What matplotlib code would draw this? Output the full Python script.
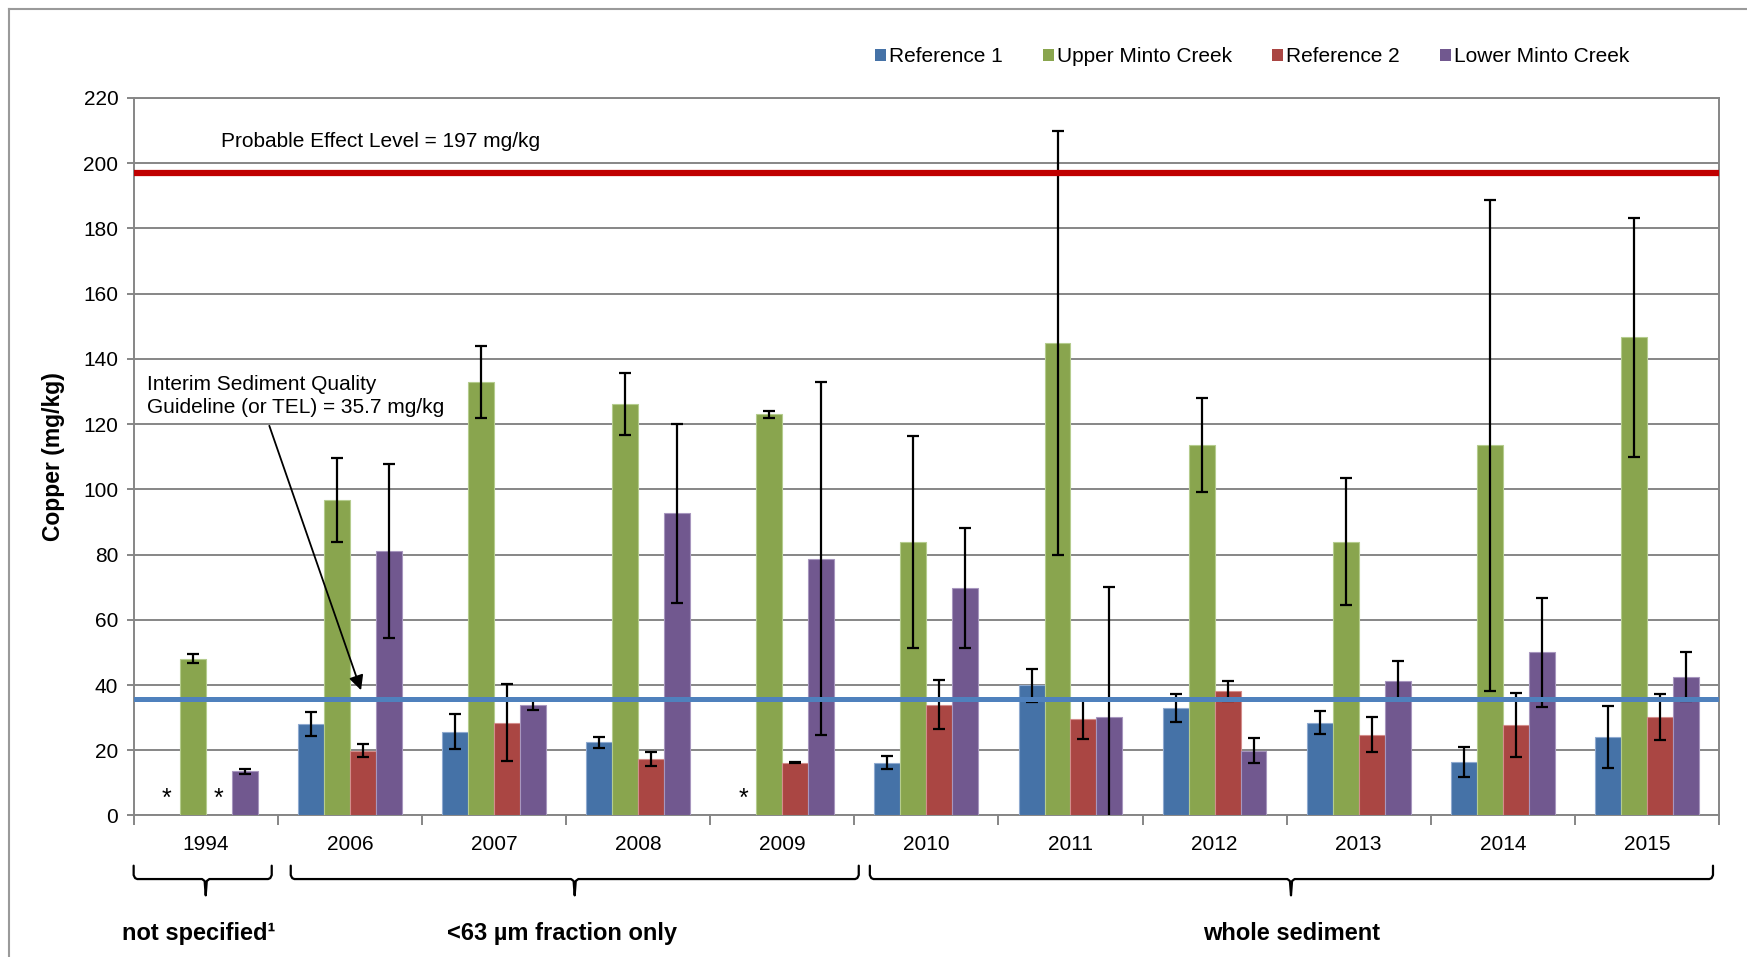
import numpy as np
import matplotlib.pyplot as plt
from matplotlib.lines import Line2D
from matplotlib.patches import Patch

plt.rcParams['font.family'] = ['Liberation Sans', 'DejaVu Sans']

years = ['1994', '2006', '2007', '2008', '2009', '2010', '2011', '2012', '2013', '2014', '2015']
series = ['Reference 1', 'Upper Minto Creek', 'Reference 2', 'Lower Minto Creek']
colors = ['#4572A7', '#89A54E', '#AA4643', '#71588F']
edges = ['#8FAAD0', '#B5CC8E', '#D38D8B', '#A796BE']

# means (mg/kg), nan = not sampled (*)
ref1 = [np.nan, 28.0, 25.7, 22.4, np.nan, 16.2, 39.9, 33.0, 28.5, 16.4, 24.1]
upper = [48.0, 96.7, 132.9, 126.1, 123.0, 83.9, 144.9, 113.6, 83.9, 113.5, 146.6]
ref2 = [np.nan, 19.9, 28.5, 17.3, 16.2, 34.0, 29.6, 38.1, 24.8, 27.8, 30.2]
lower = [13.5, 81.2, 33.8, 92.6, 78.7, 69.8, 30.2, 19.9, 41.3, 50.1, 42.5]

# standard deviations
ref1_sd = [0, 3.7, 5.3, 1.8, 0, 2.0, 5.1, 4.3, 3.6, 4.7, 9.4]
upper_sd = [1.4, 13.0, 11.1, 9.5, 1.0, 32.5, 64.9, 14.4, 19.5, 75.2, 36.7]
ref2_sd = [0, 2.1, 11.7, 2.2, 0.2, 7.5, 6.1, 3.0, 5.4, 9.8, 7.1]
lower_sd = [0.7, 26.7, 1.5, 27.5, 54.1, 18.3, 40.0, 3.9, 6.0, 16.7, 7.5]

PEL = 197
TEL = 35.7

# bracket groups: (first index, last index, label)
groups = [(0, 0, 'not specified\u00b9'), (1, 4, '<63 \u00b5m fraction only'), (5, 10, 'whole sediment')]

means = [ref1, upper, ref2, lower]
sds = [ref1_sd, upper_sd, ref2_sd, lower_sd]

fig = plt.figure(figsize=(17.47, 9.57), dpi=100)
ax = fig.add_axes([0.0765, 0.1479, 0.9075, 0.7497])

x = np.arange(len(years))
w = 0.18
offsets = (np.arange(4) - 1.5) * w

for i in range(4):
    ax.bar(x + offsets[i], means[i], w, color=colors[i], edgecolor=edges[i], linewidth=0.8,
           yerr=sds[i], zorder=3,
           error_kw=dict(ecolor='black', elinewidth=1.6, capsize=4.5, capthick=1.6, zorder=4))
    for j, v in enumerate(means[i]):
        if np.isnan(v):
            ax.text(x[j] + offsets[i], 5, '*', ha='center', va='center', fontsize=18, zorder=5)

ax.axhline(PEL, color='#C00000', lw=4.5, zorder=6)
ax.axhline(TEL, color='#4F81BD', lw=3.6, zorder=6)

ax.set_xlim(-0.5, len(years) - 0.5)
ax.set_ylim(0, 220)
ax.set_yticks(np.arange(0, 221, 20))
ax.yaxis.grid(True, color='#868686', lw=1.4, zorder=0)
ax.set_axisbelow(True)
for s in ax.spines.values():
    s.set_color('#868686')
    s.set_linewidth(1.4)

ax.set_xticks(np.arange(-0.5, len(years), 1))
ax.set_xticklabels([])
ax.set_xticks(x, minor=True)
ax.set_xticklabels(years, minor=True)
ax.tick_params(axis='x', which='major', length=7, width=1.4, color='#868686')
ax.tick_params(axis='x', which='minor', length=0, pad=14, labelsize=15)
ax.tick_params(axis='y', length=5, width=1.4, color='#868686', pad=6, labelsize=15)

ax.set_ylabel('Copper (mg/kg)', fontsize=16.5, fontweight='bold', labelpad=13)

ax.text(0.103, 206.6, 'Probable Effect Level = 197 mg/kg', fontsize=15, va='center', ha='left')
ax.text(-0.407, 128.6, 'Interim Sediment Quality\nGuideline (or TEL) = 35.7 mg/kg',
        fontsize=15, va='center', ha='left', linespacing=1.3)
ax.annotate('', xy=(1.084, 37.6), xytext=(0.435, 120.3),
            arrowprops=dict(arrowstyle='-|>', color='black', lw=1.3, mutation_scale=22), zorder=7)

# curly brackets under the axis
def brace(x0, x1, xc, ytop=-15.4, yh=-19.5, ytip=-24.5):
    c = 0.025
    xs = [x0, x0, x0 + c * 0.4, x0 + c, xc - c, xc - c * 0.3, xc, xc + c * 0.3, xc + c,
          x1 - c, x1 - c * 0.4, x1, x1]
    ys = [ytop, yh + 1.2, yh + 0.3, yh, yh, yh - 0.6, ytip, yh - 0.6, yh,
          yh, yh + 0.3, yh + 1.2, ytop]
    ax.plot(xs, ys, color='black', lw=1.6, clip_on=False, solid_capstyle='round')

brace_ends = [(-0.5, 0.458, 0.0), (0.59, 4.531, 2.56), (4.608, 10.458, 7.53)]
label_x = [-0.052, 2.475, 7.537]
for (a, b, lab), (x0, x1, xc), lx in zip(groups, brace_ends, label_x):
    brace(x0, x1, xc)
    ax.text(lx, -36.3, lab, ha='center', va='center', fontsize=17, fontweight='bold', clip_on=False)

handles = [Patch(facecolor=c) for c in colors]
fig.legend(handles, series, loc='center', bbox_to_anchor=(0.7167, 0.9405), ncol=4, frameon=False,
           fontsize=15, handlelength=0.55, handleheight=0.55, handletextpad=0.15, columnspacing=1.9)

# outer chart border
fig.add_artist(Line2D([0.0052, 0.0052], [0, 0.9906], color='#9A9A9A', lw=1.5))
fig.add_artist(Line2D([0.0052, 1.0], [0.9906, 0.9906], color='#9A9A9A', lw=1.5))

fig.savefig('out.png', dpi=100)
